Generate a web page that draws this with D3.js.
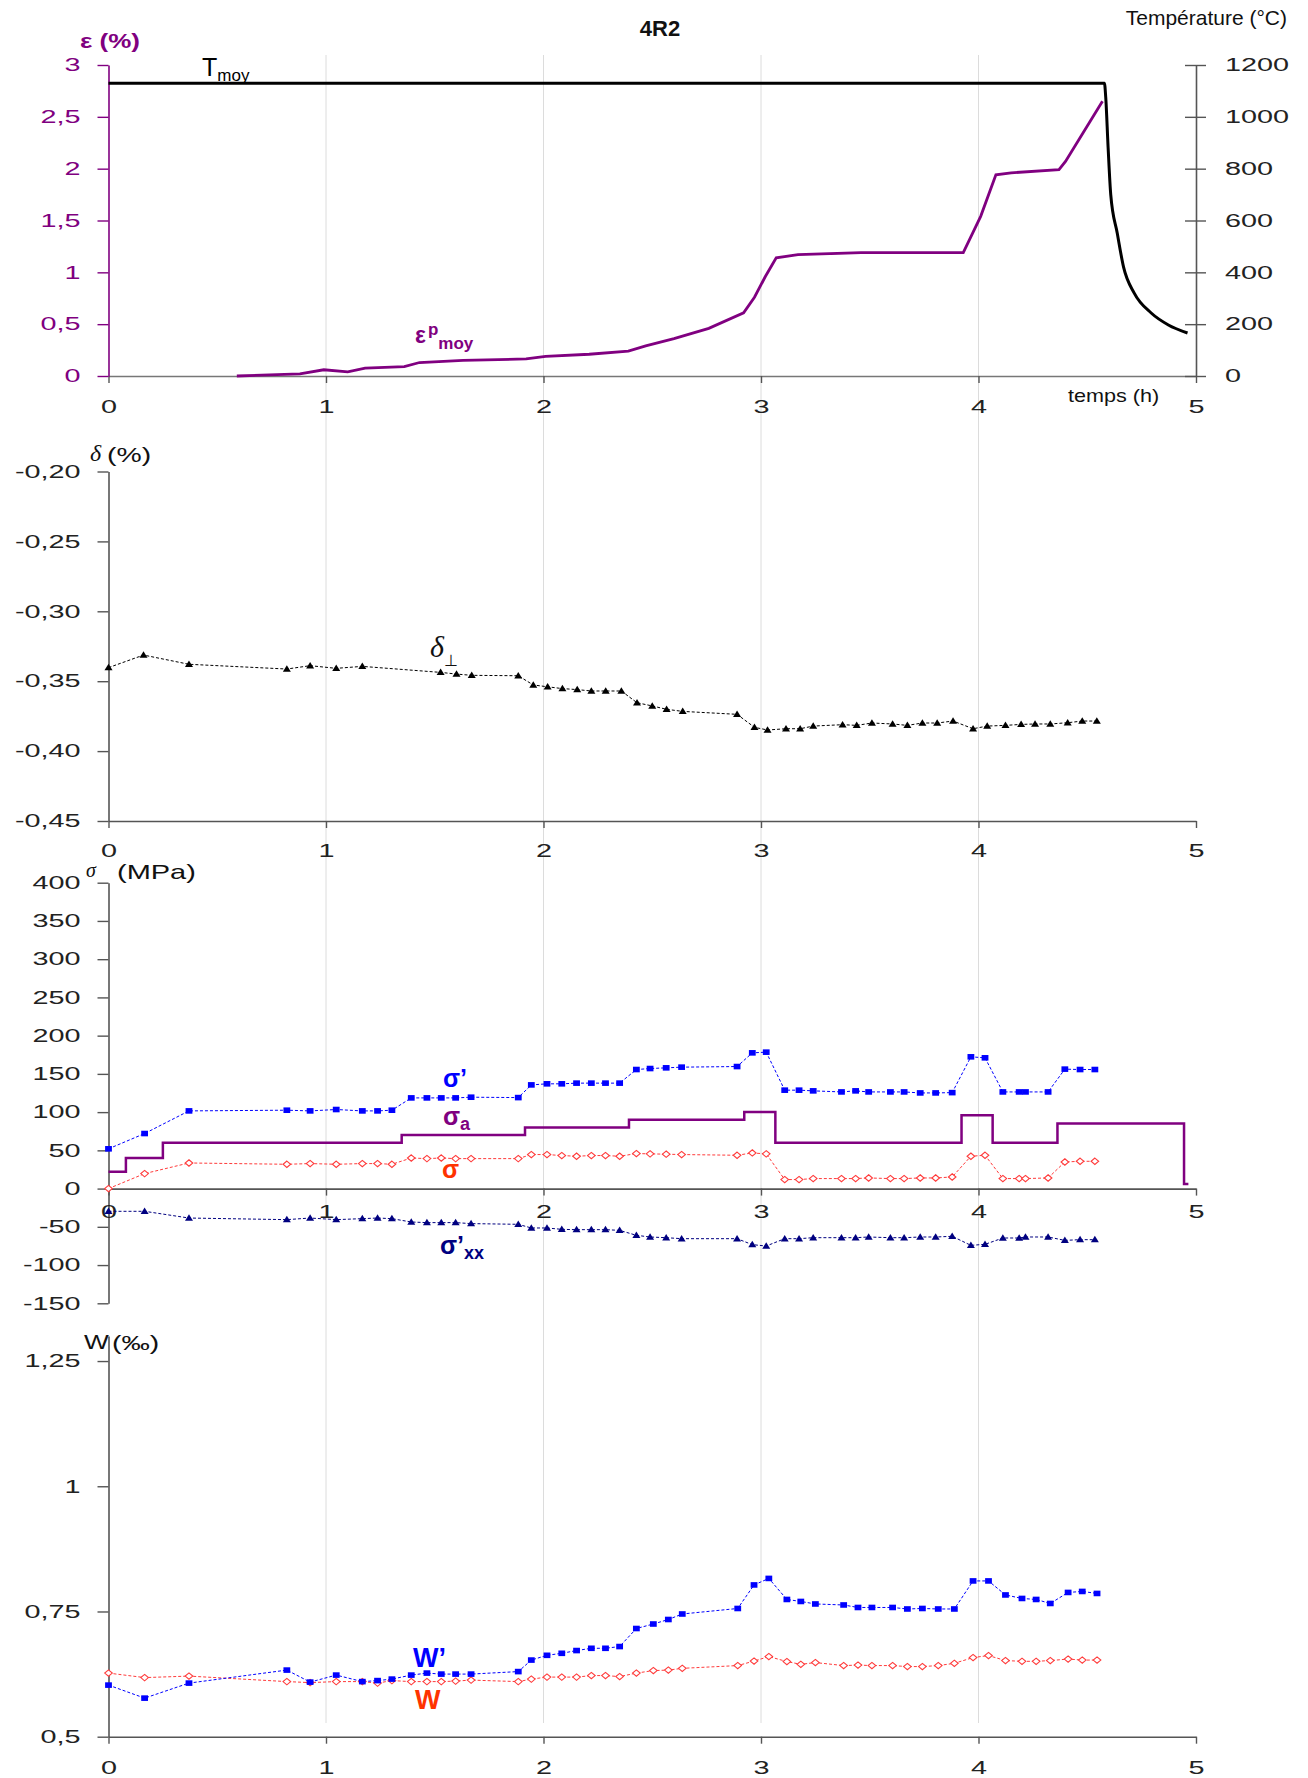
<!DOCTYPE html>
<html><head><meta charset="utf-8">
<script src="https://cdn.jsdelivr.net/npm/d3@7"></script>
<style>
body{margin:0;background:#fff;}
svg{display:block;font-family:"Liberation Sans",Arial,sans-serif;}
</style>
</head><body>
<svg id="c" width="1308" height="1778"></svg>
<script>
// ---------------- DATA ----------------
const xTicks = [0, 1, 2, 3, 4, 5];
const gridTicks = [1, 2, 3, 4];

// Panel 1 : mean temperature and mean plastic strain
const tempTicks = [0, 200, 400, 600, 800, 1000, 1200];
const epsTicks = [0, 0.5, 1, 1.5, 2, 2.5, 3];
const tempTime = [0, 4.579, 4.585, 4.596, 4.608, 4.638, 4.667, 4.716, 4.794, 4.873, 4.961];
const tempVals = [1130, 1130, 1075, 880, 700, 551, 420, 320, 243, 197, 166];
const epsTime = [0.59, 0.88, 0.99, 1.10, 1.18, 1.36, 1.43, 1.63, 1.92, 2.01, 2.21, 2.39, 2.47, 2.60, 2.76, 2.92, 2.97, 3.02, 3.07, 3.17, 3.46, 3.93, 4.01, 4.08, 4.15, 4.37, 4.40, 4.57];
const epsVals = [0, 0.02, 0.06, 0.04, 0.075, 0.09, 0.13, 0.15, 0.165, 0.19, 0.21, 0.24, 0.29, 0.36, 0.46, 0.61, 0.76, 0.96, 1.14, 1.17, 1.19, 1.19, 1.54, 1.94, 1.96, 1.99, 2.07, 2.65];

// Panel 2 : delta perpendicular
const deltaTicks = [-0.45, -0.40, -0.35, -0.30, -0.25, -0.20];
const deltaTime = [0, 0.161, 0.37, 0.82, 0.927, 1.047, 1.167, 1.527, 1.60, 1.67, 1.884, 1.953, 2.019, 2.087, 2.155, 2.22, 2.286, 2.358, 2.43, 2.50, 2.566, 2.64, 2.89, 2.97, 3.03, 3.115, 3.18, 3.24, 3.375, 3.44, 3.51, 3.605, 3.673, 3.742, 3.81, 3.883, 3.975, 4.04, 4.124, 4.196, 4.26, 4.33, 4.41, 4.477, 4.544];
const deltaVals = [-0.3403, -0.3313, -0.3379, -0.3413, -0.3389, -0.3408, -0.3394, -0.3437, -0.3449, -0.3458, -0.3461, -0.3527, -0.354, -0.3553, -0.356, -0.357, -0.357, -0.357, -0.3654, -0.3677, -0.3701, -0.3716, -0.3737, -0.383, -0.3849, -0.384, -0.384, -0.3821, -0.3811, -0.3816, -0.3799, -0.3806, -0.3816, -0.3799, -0.3799, -0.3785, -0.384, -0.3821, -0.3816, -0.3809, -0.3806, -0.3806, -0.3797, -0.3785, -0.3785];

// Panel 3 : stresses (MPa)
const stressTicks = [-150, -100, -50, 0, 50, 100, 150, 200, 250, 300, 350, 400];
const stressTime = [0, 0.166, 0.37, 0.82, 0.927, 1.047, 1.167, 1.237, 1.303, 1.392, 1.464, 1.53, 1.596, 1.667, 1.884, 1.944, 2.016, 2.084, 2.152, 2.22, 2.285, 2.35, 2.427, 2.49, 2.564, 2.635, 2.89, 2.96, 3.024, 3.109, 3.175, 3.24, 3.37, 3.435, 3.495, 3.595, 3.658, 3.732, 3.803, 3.879, 3.965, 4.03, 4.112, 4.187, 4.216, 4.32, 4.397, 4.467, 4.535];
const sigmaPrime = [52, 72, 101.6, 102.5, 101.6, 103.4, 101.6, 101.6, 102.5, 118.6, 118.6, 118.6, 118.6, 119.5, 119, 135.6, 137, 137, 137.9, 137.9, 137.9, 137.9, 155.7, 157, 157.9, 158.8, 159.6, 177.5, 178.4, 128.7, 128.7, 127.8, 126.4, 127.8, 126.4, 126.4, 126.4, 125.1, 125.1, 125.5, 172.3, 171, 126.4, 126.4, 126.4, 126.4, 156.2, 155.7, 155.7];
const sigmaVals = [0, 19.6, 33.5, 31.8, 32.7, 31.8, 32.7, 32.7, 31.8, 40, 39.2, 40, 39.2, 39.2, 39.2, 44.5, 44.5, 43.2, 42.3, 43.2, 43.2, 42.3, 45.8, 45.4, 45, 44.5, 43.6, 46.6, 45.4, 11.8, 11.8, 13.1, 13.1, 13.1, 13.9, 13.1, 13.1, 13.9, 13.9, 15.2, 42.3, 43.6, 13.1, 13.1, 13.1, 13.9, 34.8, 35.7, 35.7];
const sigmaXX = [-29.7, -29.7, -38.5, -40.6, -38.5, -40.6, -39.3, -38.5, -39.3, -43.7, -44.5, -44.5, -44.5, -45.8, -46.7, -51.5, -51.5, -53.3, -53.7, -53.7, -53.7, -54.6, -61.1, -63.3, -64.2, -65.5, -65.5, -73.3, -75.1, -65.5, -65.5, -64.2, -64.2, -64.2, -63.3, -64.2, -64.2, -63.3, -63.3, -62.4, -74.2, -72.9, -64.6, -64.6, -63.3, -63.3, -67.7, -66.8, -66.8];
const sigmaATime = [0, 0.08, 0.25, 1.348, 1.915, 2.393, 2.923, 3.066, 3.922, 4.065, 4.363, 4.945, 4.965];
const sigmaAVals = [22, 40, 60, 70, 80, 90, 100, 60, 96, 60, 85, 6, 6];

// Panel 4 : W (per mille)
const wTicks = [0.5, 0.75, 1, 1.25];
const wTime = [0, 0.166, 0.37, 0.82, 0.927, 1.047, 1.167, 1.237, 1.303, 1.392, 1.464, 1.53, 1.596, 1.667, 1.884, 1.944, 2.016, 2.084, 2.152, 2.22, 2.285, 2.35, 2.427, 2.505, 2.574, 2.638, 2.893, 2.968, 3.036, 3.119, 3.183, 3.25, 3.38, 3.446, 3.51, 3.605, 3.673, 3.742, 3.815, 3.889, 3.975, 4.046, 4.124, 4.2, 4.265, 4.33, 4.412, 4.477, 4.545];
const wPrime = [0.603, 0.577, 0.607, 0.633, 0.609, 0.623, 0.610, 0.612, 0.615, 0.623, 0.627, 0.625, 0.625, 0.625, 0.630, 0.653, 0.6625, 0.6665, 0.672, 0.6765, 0.6765, 0.680, 0.716, 0.725, 0.734, 0.745, 0.756, 0.803, 0.816, 0.774, 0.770, 0.765, 0.763, 0.758, 0.758, 0.758, 0.755, 0.756, 0.755, 0.755, 0.811, 0.811, 0.783, 0.776, 0.774, 0.766, 0.788, 0.790, 0.786];
const wVals = [0.627, 0.618, 0.621, 0.610, 0.608, 0.610, 0.610, 0.607, 0.612, 0.610, 0.610, 0.610, 0.611, 0.613, 0.610, 0.615, 0.619, 0.619, 0.619, 0.622, 0.622, 0.620, 0.627, 0.632, 0.633, 0.6365, 0.642, 0.651, 0.660, 0.650, 0.6445, 0.648, 0.642, 0.643, 0.642, 0.642, 0.640, 0.640, 0.642, 0.6465, 0.658, 0.662, 0.652, 0.6505, 0.6505, 0.652, 0.655, 0.653, 0.653];

// ---------------- STYLE ----------------
const PURPLE = "#800080", BLUE = "#0000ff", RED = "#ff3b3b", ORANGE = "#ff3300", NAVY = "#000080";
const AXIS = "#555", TICKTXT = "#222";
const TICK_SX = 1.6, TITLE_SX = 1.35;

const svg = d3.select("#c");
const x = d3.scaleLinear().domain([0, 5]).range([108.5, 1196]);
const zip = (a, b) => a.map((v, i) => [v, b[i]]);
const comma = d => String(d).replace(".", ",");

function stretch(sel, sx) {
  sel.each(function () {
    const t = d3.select(this);
    const xv = +t.attr("x") || 0;
    t.attr("x", xv / sx).attr("transform", `scale(${sx},1)`);
  });
}
function styleAxis(g, color, txtColor) {
  g.attr("font-family", null).attr("font-size", null);
  g.select(".domain").attr("stroke", color).attr("stroke-width", 1.6);
  g.selectAll(".tick line").attr("stroke", color).attr("stroke-width", 1.4);
  g.selectAll(".tick text").attr("fill", txtColor).attr("font-size", 18)
    .attr("font-family", '"Liberation Sans", Arial, sans-serif');
  stretch(g.selectAll(".tick text"), TICK_SX);
}
function xAxis(yPos, pad) {
  const g = svg.append("g").attr("transform", `translate(0,${yPos})`)
    .call(d3.axisBottom(x).tickValues(xTicks).tickSize(7).tickSizeOuter(0).tickPadding(pad).tickFormat(d => String(d)));
  styleAxis(g, AXIS, TICKTXT);
  return g;
}
function yAxisLeft(scale, ticks, fmt, color, txtColor) {
  const g = svg.append("g").attr("transform", `translate(${x(0)},0)`)
    .call(d3.axisLeft(scale).tickValues(ticks).tickSize(11).tickSizeOuter(0).tickPadding(17).tickFormat(fmt));
  styleAxis(g, color, txtColor);
  return g;
}
function dashed(data, xs, ys, color, w) {
  svg.append("path").datum(data)
    .attr("d", d3.line().x(d => xs(d[0])).y(d => ys(d[1])))
    .attr("fill", "none").attr("stroke", color).attr("stroke-width", w || 1)
    .attr("stroke-dasharray", "3,2");
}
const triPath = "M0,-3.8L4,2.7L-4,2.7Z";
const diaPath = "M0,-3.2L3.8,0L0,3.2L-3.8,0Z";
function markers(data, ys, kind, color) {
  const g = svg.append("g");
  data.forEach(d => {
    const px = x(d[0]), py = ys(d[1]);
    if (kind === "square") {
      g.append("rect").attr("x", px - 3.4).attr("y", py - 2.8).attr("width", 6.8).attr("height", 5.6).attr("fill", color);
    } else if (kind === "tri") {
      g.append("path").attr("d", triPath).attr("transform", `translate(${px},${py})`).attr("fill", color);
    } else {
      g.append("path").attr("d", diaPath).attr("transform", `translate(${px},${py})`)
        .attr("fill", "#fff").attr("stroke", color).attr("stroke-width", 1.1);
    }
  });
}
function label(xp, yp, txt, opts) {
  const t = svg.append("text").attr("x", xp).attr("y", yp).text(txt)
    .attr("font-size", opts.size || 20).attr("fill", opts.color || "#111")
    .attr("font-weight", opts.bold ? "bold" : null)
    .attr("text-anchor", opts.anchor || "start");
  if (opts.family) t.attr("font-family", opts.family);
  if (opts.italic) t.attr("font-style", "italic");
  if (opts.sx) stretch(t, opts.sx);
  return t;
}

// ---------------- GRID ----------------
svg.append("g").selectAll("line").data(gridTicks).join("line")
  .attr("x1", d => x(d)).attr("x2", d => x(d)).attr("y1", 55).attr("y2", 1723)
  .attr("stroke", "#dcdcdc").attr("stroke-width", 1);

// ---------------- PANEL 1 ----------------
const yEps = d3.scaleLinear().domain([0, 3]).range([376, 65]);
const yTemp = d3.scaleLinear().domain([0, 1200]).range([376, 65]);

const gx1 = xAxis(376, 17);
gx1.select(".domain").attr("stroke", "#777");
yAxisLeft(yEps, epsTicks, comma, PURPLE, PURPLE);
const gR = svg.append("g").attr("transform", `translate(${x(5)},0)`)
  .call(d3.axisRight(yTemp).tickValues(tempTicks).tickSize(10).tickSizeOuter(0).tickPadding(19).tickFormat(d => String(d)));
styleAxis(gR, AXIS, TICKTXT);
gR.selectAll(".tick line").attr("x1", -11);

svg.append("path").datum(zip(tempTime, tempVals))
  .attr("d", d3.line().x(d => x(d[0])).y(d => yTemp(d[1])).curve(d3.curveMonotoneX))
  .attr("fill", "none").attr("stroke", "#000").attr("stroke-width", 3);
svg.append("path").datum(zip(epsTime, epsVals))
  .attr("d", d3.line().x(d => x(d[0])).y(d => yEps(d[1])))
  .attr("fill", "none").attr("stroke", PURPLE).attr("stroke-width", 2.8);

label(660, 36, "4R2", { size: 22, bold: true, anchor: "middle" });
label(80, 48, "ε (%)", { size: 20, bold: true, color: PURPLE, sx: 1.3 });
label(1287, 25, "Température (°C)", { size: 21, anchor: "end", color: "#111" });
label(1068, 402, "temps (h)", { size: 18, color: "#111", sx: 1.2 });
{
  const t = label(202, 76, "T", { size: 25, color: "#000" });
  t.append("tspan").attr("font-size", 17).attr("dy", 5).text("moy");
}
{
  const t = label(415, 343, "ε", { size: 23, bold: true, color: PURPLE });
  t.append("tspan").attr("font-size", 17).attr("dy", -8).attr("dx", 2).text("p");
  t.append("tspan").attr("font-size", 17).attr("dy", 14).text("moy");
}

// ---------------- PANEL 2 ----------------
const yDelta = d3.scaleLinear().domain([-0.45, -0.20]).range([821, 471.5]);
xAxis(821, 16);
yAxisLeft(yDelta, deltaTicks, d => d.toFixed(2).replace(".", ","), AXIS, TICKTXT);
const deltaData = zip(deltaTime, deltaVals);
dashed(deltaData, x, yDelta, "#000", 1);
markers(deltaData, yDelta, "tri", "#000");
label(90, 461, "δ", { size: 24, italic: true, family: '"Liberation Serif", serif' });
label(107, 462, "(%)", { size: 21, sx: TITLE_SX });
{
  const t = label(430, 657, "δ", { size: 30, italic: true, family: '"Liberation Serif", serif' });
  t.append("tspan").attr("font-size", 16).attr("font-style", "normal").attr("dy", 9).text("⊥");
}

// ---------------- PANEL 3 ----------------
const yS = d3.scaleLinear().domain([-150, 400]).range([1303.3, 882.7]);
yAxisLeft(yS, stressTicks, d => String(d), AXIS, TICKTXT);
xAxis(yS(0), 10);
const spData = zip(stressTime, sigmaPrime);
const sData = zip(stressTime, sigmaVals);
const sxxData = zip(stressTime, sigmaXX);
svg.append("path").datum(zip(sigmaATime, sigmaAVals))
  .attr("d", d3.line().x(d => x(d[0])).y(d => yS(d[1])).curve(d3.curveStepAfter))
  .attr("fill", "none").attr("stroke", PURPLE).attr("stroke-width", 2.5);
dashed(spData, x, yS, BLUE, 1);
dashed(sData, x, yS, RED, 1);
dashed(sxxData, x, yS, NAVY, 1);
markers(spData, yS, "square", BLUE);
markers(sData, yS, "diamond", RED);
markers(sxxData, yS, "tri", NAVY);
label(86, 877, "σ", { size: 20, italic: true, family: '"Liberation Serif", serif' });
label(117, 879, "(MPa)", { size: 21, sx: 1.38 });
label(443, 1087, "σ’", { size: 25, bold: true, color: BLUE });
{
  const t = label(443, 1125, "σ", { size: 25, bold: true, color: PURPLE });
  t.append("tspan").attr("font-size", 18).attr("dy", 5).text("a");
}
label(442, 1178, "σ", { size: 25, bold: true, color: ORANGE });
{
  const t = label(440, 1254, "σ’", { size: 25, bold: true, color: NAVY });
  t.append("tspan").attr("font-size", 18).attr("dy", 5).text("xx");
}

// ---------------- PANEL 4 ----------------
const yW = d3.scaleLinear().domain([0.5, 1.3]).range([1736.7, 1336]);
yAxisLeft(yW, wTicks, comma, AXIS, TICKTXT);
xAxis(1736.7, 18);
const wpData = zip(wTime, wPrime);
const wData = zip(wTime, wVals);
dashed(wData, x, yW, RED, 1);
dashed(wpData, x, yW, BLUE, 1);
markers(wData, yW, "diamond", RED);
markers(wpData, yW, "square", BLUE);
label(84, 1349, "W", { size: 21, sx: 1.25 });
label(112, 1350, "(‰)", { size: 21, sx: TITLE_SX });
label(413, 1667, "W’", { size: 27, bold: true, color: BLUE });
label(415, 1709, "W", { size: 27, bold: true, color: ORANGE });
</script>
</body></html>
